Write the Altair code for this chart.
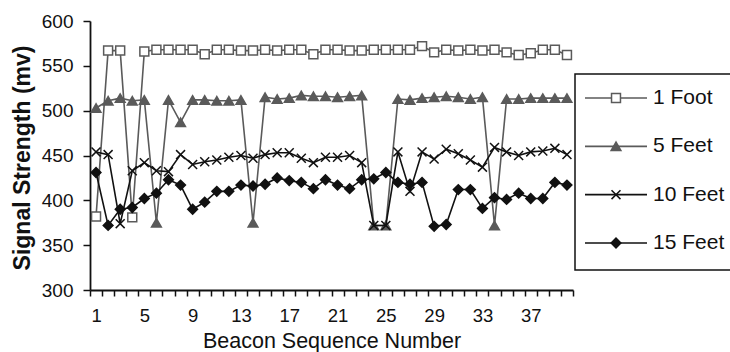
import altair as alt
import pandas as pd

# ---------------- data ----------------
beacon = list(range(1, 41))
tick_labels = [1, 5, 9, 13, 17, 21, 25, 29, 33, 37]
y_ticks = [300, 350, 400, 450, 500, 550, 600]
series_names = ["1 Foot", "5 Feet", "10 Feet", "15 Feet"]

foot_1 = [382, 567, 567, 381, 566, 568, 568, 568, 568, 563,
          568, 568, 567, 567, 568, 567, 568, 568, 563, 568,
          568, 567, 567, 568, 568, 568, 568, 572, 565, 568,
          567, 568, 567, 568, 565, 562, 564, 568, 568, 562]
feet_5 = [503, 511, 514, 511, 512, 375, 512, 487, 512, 512,
          511, 511, 512, 375, 515, 513, 514, 517, 516, 516,
          515, 516, 517, 372, 372, 513, 512, 514, 515, 516,
          515, 513, 515, 372, 513, 513, 514, 514, 514, 514]
feet_10 = [454, 451, 374, 433, 442, 433, 432, 451, 440, 443,
           445, 448, 450, 447, 451, 453, 453, 447, 442, 448,
           448, 450, 442, 372, 372, 454, 410, 454, 446, 457,
           452, 445, 437, 459, 454, 450, 454, 455, 458, 451]
feet_15 = [431, 372, 390, 392, 402, 408, 423, 417, 390, 398,
           410, 410, 417, 416, 418, 425, 422, 420, 413, 423,
           417, 413, 423, 424, 431, 420, 418, 420, 371, 373,
           412, 412, 391, 403, 401, 408, 402, 402, 420, 417]

series_values = {"1 Foot": foot_1, "5 Feet": feet_5, "10 Feet": feet_10, "15 Feet": feet_15}

rows = []
for name in series_names:
    for b, v in zip(beacon, series_values[name]):
        rows.append({"beacon": b, "series": name, "signal": v})
df = pd.DataFrame(rows)
legend_df = pd.DataFrame({"series": series_names})
box_df = pd.DataFrame({"box": [0]})

# ---------------- style ----------------
W, H = 483, 269
FONT = "Liberation Sans"
GRAY = "#5a5a5a"
DARK = "#111111"
XPATH = "M-1,-1L1,1M-1,1L1,-1"
styles = {
    "1 Foot": dict(line=GRAY, shape="square", fill="white", stroke=GRAY, size=80),
    "5 Feet": dict(line=GRAY, shape="triangle-up", fill=GRAY, stroke=GRAY, size=95),
    "10 Feet": dict(line=DARK, shape=XPATH, fill="transparent", stroke=DARK, size=80),
    "15 Feet": dict(line=DARK, shape="diamond", fill=DARK, stroke=DARK, size=95),
}

tick_pos = [b - 0.5 for b in beacon] + [beacon[-1] + 0.5]
label_expr = ("indexof(" + str(tick_labels) + ", datum.value + 0.5) >= 0 ? "
              "'' + (datum.value + 0.5) : ''")

x_enc = alt.X(
    "beacon:Q",
    scale=alt.Scale(domain=[0.5, 40.5], nice=False, zero=False),
    axis=alt.Axis(
        values=tick_pos, labelExpr=label_expr, labelOffset=W / 80,
        labelFlush=False, labelOverlap=False, grid=False,
        tickSize=6, labelPadding=10, labelFontSize=18.5,
        title="Beacon Sequence Number", titleFontSize=21.5, titleFontWeight="normal",
        titleX=W / 2, titleY=57, titleBaseline="alphabetic", titleAlign="center",
    ),
)
y_enc = alt.Y(
    "signal:Q",
    scale=alt.Scale(domain=[300, 600], nice=False, zero=False),
    axis=alt.Axis(
        values=y_ticks, grid=False, tickSize=7, labelPadding=10, labelFontSize=19,
        title="Signal Strength (mv)", titleFontSize=23, titleFontWeight="bold",
        titleX=-68, titleY=H / 2 + 2, titleAngle=-90, titleBaseline="middle", titleAlign="center",
    ),
)

main_layers = []
for name in series_names:
    st = styles[name]
    base = alt.Chart(df).transform_filter(alt.datum.series == name)
    main_layers.append(base.mark_line(color=st["line"], strokeWidth=1.6).encode(x=x_enc, y=y_enc))
    main_layers.append(
        base.mark_point(shape=st["shape"], size=st["size"], filled=True, fill=st["fill"],
                        stroke=st["stroke"], strokeWidth=1.5, opacity=1).encode(x=x_enc, y=y_enc)
    )
main = alt.layer(*main_layers)

legend_y = alt.Y("series:N", axis=None,
                 scale=alt.Scale(type="point", domain=series_names, range=[77, 222], padding=0))
legend_layers = [
    alt.Chart(box_df).mark_rect(fill="white", stroke=DARK, strokeWidth=1.5).encode(
        x=alt.value(485), x2=alt.value(720), y=alt.value(53), y2=alt.value(249))
]
for name in series_names:
    st = styles[name]
    lb = alt.Chart(legend_df).transform_filter(alt.datum.series == name)
    legend_layers.append(lb.mark_rule(color=st["line"], strokeWidth=1.6).encode(
        x=alt.value(495), x2=alt.value(557), y=legend_y))
    legend_layers.append(lb.mark_point(shape=st["shape"], size=st["size"], filled=True,
                                       fill=st["fill"], stroke=st["stroke"], strokeWidth=1.5,
                                       opacity=1).encode(x=alt.value(526), y=legend_y))
    legend_layers.append(lb.mark_text(align="left", baseline="middle", font=FONT, fontSize=21,
                                      color=DARK).encode(x=alt.value(563), y=legend_y, text="series:N"))
legend = alt.layer(*legend_layers)

chart = (
    alt.layer(main, legend)
    .resolve_scale(y="independent")
    .properties(
        width=W, height=H,
        padding={"left": 90, "top": 21, "right": 730 - 90 - W, "bottom": 352 - 21 - H},
        autosize=alt.AutoSizeParams(type="none"),
        background="white",
    )
    .configure_view(stroke=None)
    .configure_axis(
        domainColor=DARK, domainWidth=1.8, tickColor=DARK, tickWidth=1.5,
        labelColor=DARK, titleColor=DARK, labelFont=FONT, titleFont=FONT,
    )
)

chart.save("out.html", embed_options={"renderer": "svg", "actions": False})
